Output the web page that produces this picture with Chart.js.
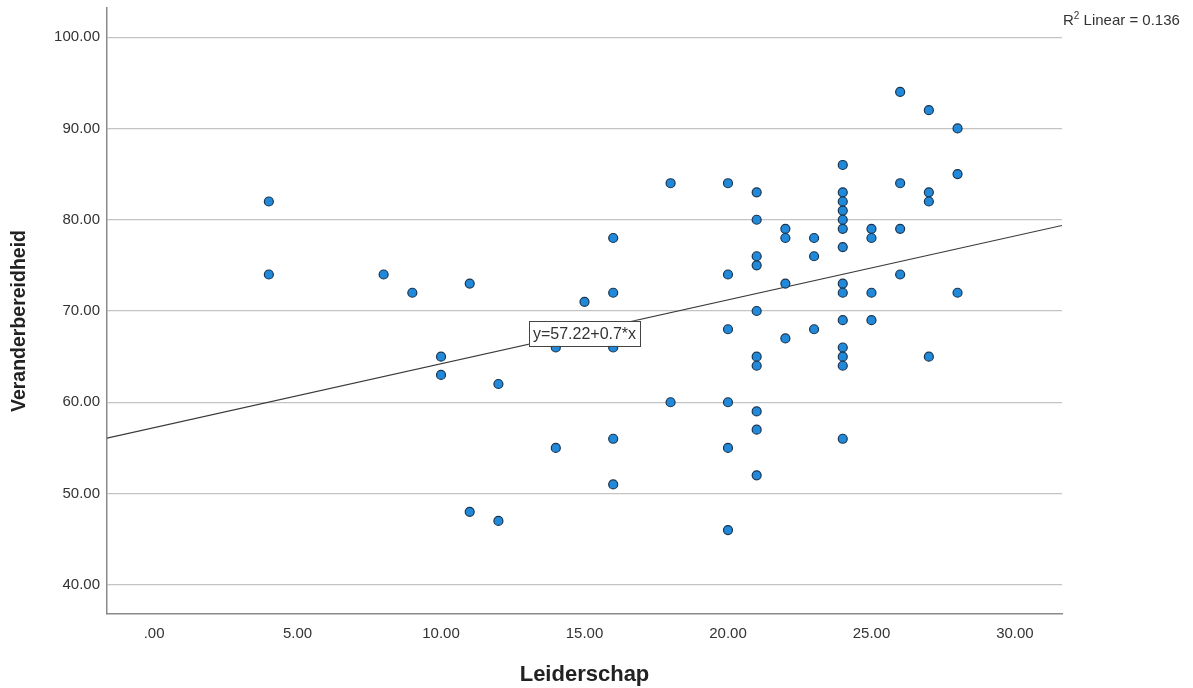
<!DOCTYPE html>
<html>
<head>
<meta charset="utf-8">
<script src="https://cdn.jsdelivr.net/npm/chart.js@4/dist/chart.umd.min.js"></script>
<style>
	body { margin: 0; background: #fff; }
	#wrap { width: 1193px; height: 688px; }
</style>
</head>
<body>
<div id="wrap"><canvas id="myChart" width="1193" height="688"></canvas></div>
<script>
// Leiderschap (x) per respondent, grouped by column
const leiderschap = [
	4, 4, 8, 9, 10, 10, 11, 11, 12, 12, 14, 14, 15,
	16, 16, 16, 16, 16, 18, 18,
	20, 20, 20, 20, 20, 20,
	21, 21, 21, 21, 21, 21, 21, 21, 21, 21,
	22, 22, 22, 22, 23, 23, 23,
	24, 24, 24, 24, 24, 24, 24, 24, 24, 24, 24, 24, 24, 24,
	25, 25, 25, 25, 26, 26, 26, 26, 27, 27, 27, 27, 28, 28, 28
];
// Veranderbereidheid (y), same order
const veranderbereidheid = [
	82, 74, 74, 72, 65, 63, 73, 48, 62, 47, 66, 55, 71,
	78, 72, 66, 56, 51, 84, 60,
	84, 74, 68, 60, 55, 46,
	83, 80, 76, 75, 70, 65, 64, 59, 57, 52,
	79, 78, 73, 67, 78, 76, 68,
	86, 83, 82, 81, 80, 79, 77, 73, 72, 69, 66, 65, 64, 56,
	79, 78, 72, 69, 94, 84, 79, 74, 92, 83, 82, 65, 90, 85, 72
];
// fit line end points (across the plot)
const fitX = [-1.64, 31.64];
const fitY = [56.07, 79.37];
const xTicks = [0, 5, 10, 15, 20, 25, 30];
const yTicks = [40, 50, 60, 70, 80, 90, 100];
const fitLabel = "y=57.22+0.7*x";
const fitLabelAt = [15.0, 67.55];
const rSquared = "0.136";
const yTitle = "Veranderbereidheid";

const points = leiderschap.map(function(x, i) {
	return { x: x, y: veranderbereidheid[i] };
});
const fitPoints = fitX.map(function(x, i) {
	return { x: x, y: fitY[i] };
});

function fmt(v) {
	if (v === 0) return ".00";
	return v.toFixed(2);
}

const labelsPlugin = {
	id: "labelsPlugin",
	afterDatasetsDraw: function(chart) {
		const ctx = chart.ctx;
		const xs = chart.scales.x, ys = chart.scales.y;
		// equation box
		const cx = xs.getPixelForValue(fitLabelAt[0]);
		const cy = ys.getPixelForValue(fitLabelAt[1]);
		ctx.save();
		ctx.font = "16px 'Liberation Sans', Arial, sans-serif";
		const w = ctx.measureText(fitLabel).width + 8;
		const h = 25;
		ctx.fillStyle = "#fff";
		ctx.fillRect(cx - w / 2, cy - h / 2, w, h);
		ctx.strokeStyle = "#444";
		ctx.lineWidth = 1;
		ctx.strokeRect(Math.round(cx - w / 2) + 0.5, Math.round(cy - h / 2) + 0.5, Math.round(w), h);
		ctx.fillStyle = "#333";
		ctx.textAlign = "center";
		ctx.textBaseline = "middle";
		ctx.fillText(fitLabel, cx, cy + 1);

		// R squared note, top right
		ctx.textAlign = "left";
		ctx.textBaseline = "alphabetic";
		let tx = chart.chartArea.right + 1;
		const ty = 25;
		ctx.font = "15px 'Liberation Sans', Arial, sans-serif";
		ctx.fillText("R", tx, ty);
		tx += ctx.measureText("R").width;
		ctx.font = "10px 'Liberation Sans', Arial, sans-serif";
		ctx.fillText("2", tx, ty - 6);
		tx += ctx.measureText("2").width;
		ctx.font = "15px 'Liberation Sans', Arial, sans-serif";
		ctx.fillText(" Linear = " + rSquared, tx, ty);

		// y axis title
		ctx.translate(20, 321);
		ctx.rotate(-Math.PI / 2);
		ctx.textAlign = "center";
		ctx.textBaseline = "middle";
		ctx.fillStyle = "#222";
		ctx.font = "bold 19.5px 'Liberation Sans', Arial, sans-serif";
		ctx.fillText(yTitle, 0, 0);
		ctx.restore();
	}
};

const ctx = document.getElementById("myChart").getContext("2d");
const config = {
	type: "scatter",
	data: {
		datasets: [{
			label: "fit",
			type: "line",
			data: fitPoints,
			borderColor: "#3a3a3a",
			borderWidth: 1.2,
			pointRadius: 0,
			fill: false,
			order: 2
		}, {
			label: "respondenten",
			data: points,
			backgroundColor: "#2089da",
			borderColor: "#1b3550",
			borderWidth: 1.2,
			pointRadius: 4.5,
			order: 1
		}]
	},
	options: {
		responsive: false,
		animation: false,
		events: [],
		layout: { padding: { top: 8, right: 131, left: 0, bottom: 0 } },
		plugins: {
			legend: { display: false },
			tooltip: { enabled: false }
		},
		scales: {
			x: {
				type: "linear",
				min: -1.64,
				max: 31.64,
				afterBuildTicks: function(scale) {
					scale.ticks = xTicks.map(function(v) { return { value: v }; });
				},
				afterFit: function(scale) {
					scale.height = 74;
					scale.paddingLeft = 0;
					scale.paddingRight = 0;
				},
				grid: { display: false, drawTicks: false },
				border: { display: true, color: "#8a8a8a", width: 1.5 },
				ticks: {
					padding: 11,
					color: "#333",
					font: { family: "'Liberation Sans', Arial", size: 15 },
					callback: function(v) { return fmt(v); }
				},
				title: {
					display: true,
					text: "Leiderschap",
					color: "#222",
					font: { family: "'Liberation Sans', Arial", size: 22, weight: "bold" },
					padding: { top: 6, bottom: 0 }
				}
			},
			y: {
				type: "linear",
				min: 36.8,
				max: 103.2,
				afterBuildTicks: function(scale) {
					scale.ticks = yTicks.map(function(v) { return { value: v }; });
				},
				afterFit: function(scale) {
					scale.width = 107;
					scale.paddingTop = 0;
					scale.paddingBottom = 0;
				},
				grid: { color: "#c4c4c4", lineWidth: 1.2, drawTicks: false },
				border: { display: true, color: "#8a8a8a", width: 1.5 },
				ticks: {
					padding: 7,
					color: "#333",
					font: { family: "'Liberation Sans', Arial", size: 15 },
					callback: function(v) { return fmt(v); }
				},
				title: { display: false }
			}
		}
	},
	plugins: [labelsPlugin]
};

const myChart = new Chart(ctx, config);
</script>
</body>
</html>
